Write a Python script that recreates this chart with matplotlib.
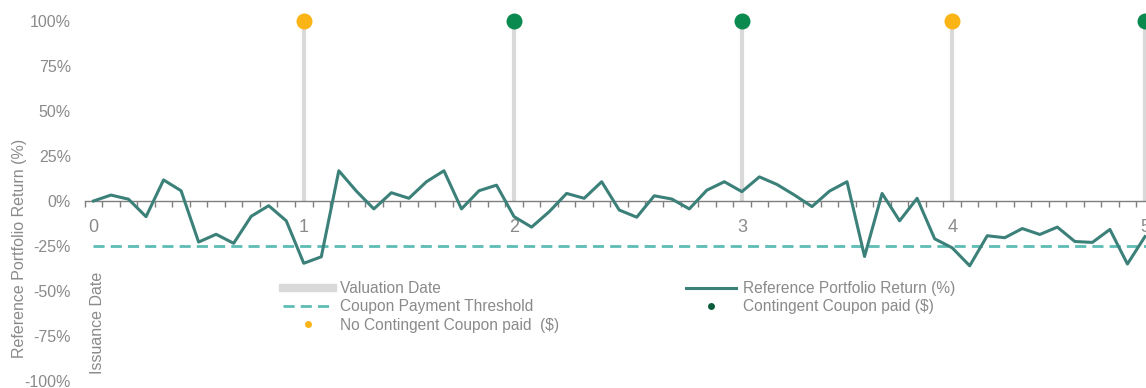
import matplotlib
matplotlib.use("Agg")
import matplotlib.pyplot as plt
from matplotlib.lines import Line2D
import numpy as np

plt.rcParams['font.family'] = ['Liberation Sans', 'DejaVu Sans']

# monthly reference portfolio return (%), index 0..60
returns = [0, 3.3, 1, -8.7, 11.7, 5.7, -22.8, -18.5, -23.5, -8.5, -2.6, -11,
           -34.6, -31, 16.8, 5.5, -4.4, 4.6, 1.5, 10.7, 16.8, -4.4, 5.7, 8.8,
           -8.7, -14.5, -6, 4.2, 1.5, 10.7, -5, -9, 2.9, 1.1, -4.4, 6,
           10.7, 5.2, 13.4, 9.2, 3.3, -3.1, 5.5, 10.7, -30.8, 4.2, -11, 1.5,
           -21, -26, -36, -19.3, -20.4, -15.3, -18.6, -14.5, -22.5, -23, -15.8, -35,
           -19.8]
threshold = -25

# valuation dates (position in the monthly series) and labels
val_idx = [12, 24, 37, 49, 60]
val_labels = ['1', '2', '3', '4', '5']
coupon_paid = [False, True, True, False, True]
stem_top = 100

xlab_idx = [0] + val_idx
xlab = ['0'] + val_labels

grey_txt = '#8a8a8a'
teal = '#3b8079'
thr_col = '#5dbdb4'
orange = '#fbb416'
green = '#0b8a4f'
green_dark = '#0b5c3a'
stem_col = '#d9d9d9'

fig = plt.figure(figsize=(11.46, 3.88), dpi=100)
ax = fig.add_axes([84.7 / 1146, 7 / 388, 1 - 84.7 / 1146, 360 / 388])

x = np.arange(len(returns))

# valuation date stems
for i in val_idx:
    ax.plot([i, i], [0, stem_top], color=stem_col, lw=3.0, zorder=1, solid_capstyle='butt')

# threshold
ax.plot([0, 62], [threshold, threshold], color=thr_col, lw=2.0, ls=(0, (4, 2.2)), zorder=2)

# return line
ax.plot(x, returns, color=teal, lw=2.2, zorder=3)

# coupon markers
for i, paid in zip(val_idx, coupon_paid):
    ax.plot(i, stem_top, 'o', ms=11.5, color=green if paid else orange,
            mec='none', zorder=4, clip_on=False)

ax.set_xlim(-0.5, 60.06)
ax.set_ylim(-100, 100)

for s in ['top', 'right', 'left']:
    ax.spines[s].set_visible(False)
ax.spines['bottom'].set_position(('data', 0))
ax.spines['bottom'].set_color('#7f7f7f')
ax.spines['bottom'].set_linewidth(1.0)

ax.set_xticks(xlab_idx)
ax.set_xticklabels(xlab)
ax.set_xticks(np.arange(-0.5, 60, 1), minor=True)
ax.tick_params(axis='x', which='major', length=0, pad=13, labelsize=13, labelcolor=grey_txt)
ax.tick_params(axis='x', which='minor', length=4.5, width=1.0, color='#7f7f7f', direction='out')

yt = [-100, -75, -50, -25, 0, 25, 50, 75, 100]
ax.set_yticks(yt)
ax.set_yticklabels([f'{v}%' for v in yt])
ax.tick_params(axis='y', length=0, pad=10, labelsize=11.5, labelcolor=grey_txt)

fig.text(20 / 1146, 1 - 248 / 388, 'Reference Portfolio Return (%)', rotation=90,
         ha='center', va='center', color=grey_txt, fontsize=11.5)
fig.text(97 / 1146, 1 - 323 / 388, 'Issuance Date', rotation=90,
         ha='center', va='center', color=grey_txt, fontsize=11.5)

handles = [
    Line2D([], [], color=stem_col, lw=6),
    Line2D([], [], color=thr_col, lw=2.0, ls=(0, (4, 2.2))),
    Line2D([], [], ls='none', marker='o', ms=5, color=orange, mec='none'),
    Line2D([], [], color=teal, lw=2.2),
    Line2D([], [], ls='none', marker='o', ms=5, color=green_dark, mec='none'),
]
labels = ['Valuation Date', 'Coupon Payment Threshold', 'No Contingent Coupon paid  ($)',
          'Reference Portfolio Return (%)', 'Contingent Coupon paid ($)']
leg = fig.legend(handles, labels, ncol=2, loc='upper left',
                 bbox_to_anchor=(283 / 1146, 1 - 281 / 388), frameon=False,
                 borderpad=0, borderaxespad=0, handlelength=3.2, handletextpad=0.45,
                 columnspacing=8.2, labelspacing=0.22, fontsize=11.2)
for t in leg.get_texts():
    t.set_color(grey_txt)

fig.savefig('out.png', dpi=100)
